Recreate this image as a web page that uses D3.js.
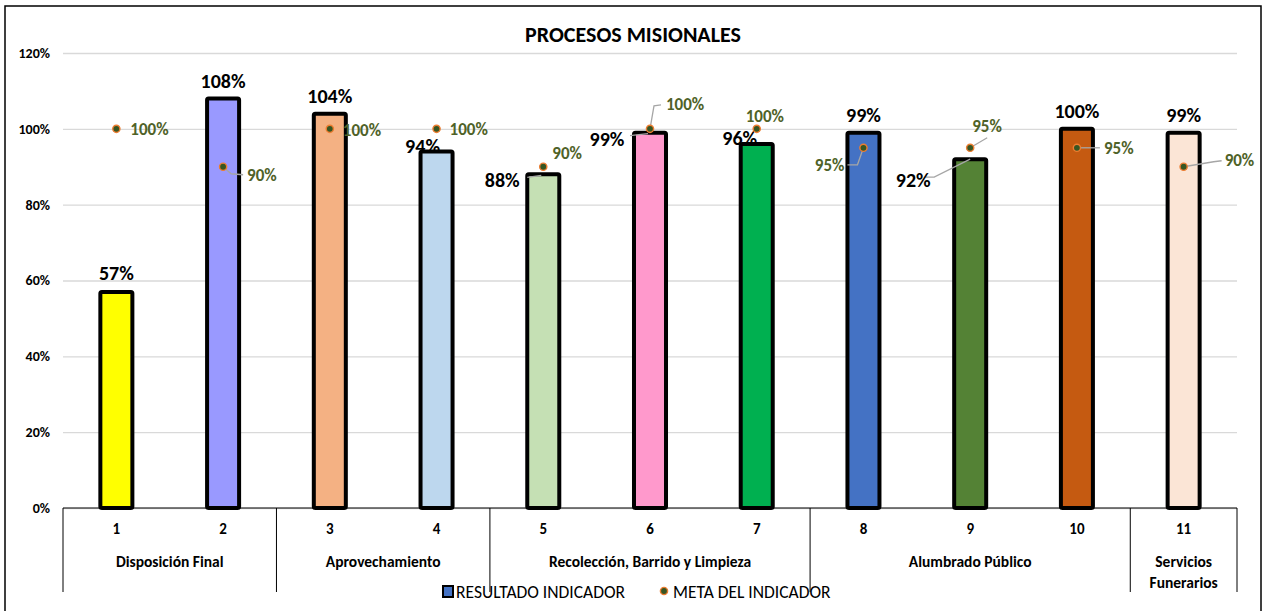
<!DOCTYPE html>
<html>
<head>
<meta charset="utf-8">
<script src="https://cdn.jsdelivr.net/npm/d3@7"></script>
<style>
  html, body { margin: 0; padding: 0; background: #fff; }
  svg { display: block; font-family: Carlito, Calibri, Lato, sans-serif; }
</style>
</head>
<body>
<svg id="chart" width="1264" height="611"></svg>
<script>
// data
const ids = ['1', '2', '3', '4', '5', '6', '7', '8', '9', '10', '11'];
const resultado = [0.57, 1.08, 1.04, 0.94, 0.88, 0.99, 0.96, 0.99, 0.92, 1.00, 0.99];
const meta = [1.00, 0.90, 1.00, 1.00, 0.90, 1.00, 1.00, 0.95, 0.95, 0.95, 0.90];
const groups = [
  { name: ['Disposición Final'], from: '1', to: '2' },
  { name: ['Aprovechamiento'], from: '3', to: '4' },
  { name: ['Recolección, Barrido y Limpieza'], from: '5', to: '7' },
  { name: ['Alumbrado Público'], from: '8', to: '10' },
  { name: ['Servicios', 'Funerarios'], from: '11', to: '11' },
];
const yTicks = [0, 0.2, 0.4, 0.6, 0.8, 1.0, 1.2];

const barColors = ['#FFFF00', '#9999FF', '#F4B183', '#BDD7EE', '#C5E0B4', '#FF99CC',
  '#00B050', '#4472C4', '#548235', '#C55A11', '#FBE5D6'];

// label placement (as dragged around in the original sheet)
const barLabelOff = [[0, -12], [0, -11], [0, -11], [-14, 1], [-41, 13], [-43, 13],
  [-17, 1], [0, -11], [-57, 28], [0, -11], [0, -11]];
const barLeaders = { 4: [[-2, 1], [-16, 3]], 5: [[-2, 1], [-20, 3]], 8: [[0, 0], [-36, 18], [-45, 18]] };
const metaLabelOff = [[14, 6, 'start'], [24, 14, 'start'], [13, 7, 'start'], [13, 6, 'start'],
  [9, -8, 'start'], [16, -19, 'start'], [-11, -7, 'start'], [-19, 23, 'end'],
  [2, -16, 'start'], [27, 6, 'start'], [41, -1, 'start']];
const metaLeaders = {
  1: [[0, 0], [8, 7], [20, 8]],
  5: [[0, 0], [4, -23], [11, -24]],
  7: [[0, 0], [-6, 17], [-16, 17]],
  8: [[0, 0], [17, -10]],
  9: [[0, 0], [23, 0]],
  10: [[0, 0], [30, -5], [38, -6]],
};

const svg = d3.select('#chart');

svg.append('rect')
  .attr('x', 5).attr('y', 6).attr('width', 1256).attr('height', 620)
  .attr('fill', '#fff').attr('stroke', '#000').attr('stroke-width', 1.5);

const x = d3.scaleBand().domain(ids).range([63, 1237]);
const y = d3.scaleLinear().domain([0, 1.2]).range([508, 53]);
const barW = x.bandwidth() * 0.3;
const cx = (id) => x(id) + x.bandwidth() / 2;

// title
svg.append('text')
  .attr('x', 633).attr('y', 42)
  .attr('text-anchor', 'middle')
  .attr('font-size', 22).attr('font-weight', 'bold')
  .text('PROCESOS MISIONALES');

// grid + y axis
const yAxis = svg.append('g')
  .attr('transform', 'translate(63,0)')
  .call(d3.axisLeft(y).tickValues(yTicks).tickFormat(d3.format('.0%')).tickSize(-1174).tickPadding(13));
yAxis.select('.domain').remove();
yAxis.selectAll('.tick line').attr('stroke', '#d9d9d9').attr('stroke-width', 1.3);
yAxis.selectAll('.tick text')
  .attr('font-size', 14).attr('font-weight', 'bold').attr('fill', '#000')
  .attr('font-family', 'Carlito, Calibri, Lato, sans-serif');

// baseline
svg.append('line')
  .attr('x1', 63).attr('x2', 1237).attr('y1', y(0)).attr('y2', y(0))
  .attr('stroke', '#000').attr('stroke-width', 1);

// category axis: numbers, group names and separators
svg.append('g').selectAll('text')
  .data(ids)
  .join('text')
  .attr('x', cx).attr('y', 534)
  .attr('text-anchor', 'middle')
  .attr('font-size', 15).attr('font-weight', 'bold')
  .text((d) => d);

const seps = [x(groups[0].from)].concat(groups.map((g) => x(g.to) + x.bandwidth()));
svg.append('g').selectAll('line')
  .data(seps)
  .join('line')
  .attr('x1', (d) => d).attr('x2', (d) => d)
  .attr('y1', y(0)).attr('y2', 592)
  .attr('stroke', '#000').attr('stroke-width', 1);

const gl = svg.append('g').selectAll('text')
  .data(groups)
  .join('text')
  .attr('x', (g) => (x(g.from) + x(g.to) + x.bandwidth()) / 2)
  .attr('y', 567)
  .attr('text-anchor', 'middle')
  .attr('font-size', 15.5).attr('font-weight', 'bold');
gl.selectAll('tspan')
  .data((g) => g.name)
  .join('tspan')
  .attr('x', function () { return d3.select(this.parentNode).attr('x'); })
  .attr('dy', (d, i) => (i === 0 ? 0 : 21))
  .text((d) => d);

// bars
const barData = ids.map((id, i) => ({ id, i, v: resultado[i], m: meta[i] }));
svg.append('g').selectAll('rect')
  .data(barData)
  .join('rect')
  .attr('x', (d) => cx(d.id) - barW / 2)
  .attr('y', (d) => y(d.v))
  .attr('width', barW)
  .attr('height', (d) => y(0) - y(d.v))
  .attr('rx', 1.5)
  .attr('fill', (d) => barColors[d.i])
  .attr('stroke', '#000')
  .attr('stroke-width', 4);

const line = d3.line();

// leader lines
const leadG = svg.append('g').attr('fill', 'none').attr('stroke', '#a6a6a6').attr('stroke-width', 1.3);
Object.entries(barLeaders).forEach(([i, pts]) => {
  const d = barData[i];
  leadG.append('path').attr('d', line(pts.map((p) => [cx(d.id) + p[0], y(d.v) + p[1]])));
});
Object.entries(metaLeaders).forEach(([i, pts]) => {
  const d = barData[i];
  leadG.append('path').attr('d', line(pts.map((p) => [cx(d.id) + p[0], y(d.m) + p[1]])));
});

// bar labels
svg.append('g').selectAll('text')
  .data(barData)
  .join('text')
  .attr('x', (d) => cx(d.id) + barLabelOff[d.i][0])
  .attr('y', (d) => y(d.v) + barLabelOff[d.i][1])
  .attr('text-anchor', 'middle')
  .attr('font-size', 20).attr('font-weight', 'bold')
  .text((d) => d3.format('.0%')(d.v));

// meta points
svg.append('g').selectAll('circle')
  .data(barData)
  .join('circle')
  .attr('cx', (d) => cx(d.id))
  .attr('cy', (d) => y(d.m))
  .attr('r', 3.6)
  .attr('fill', '#375623')
  .attr('stroke', '#ED7D31')
  .attr('stroke-width', 1.4);

svg.append('g').selectAll('text')
  .data(barData)
  .join('text')
  .attr('x', (d) => cx(d.id) + metaLabelOff[d.i][0])
  .attr('y', (d) => y(d.m) + metaLabelOff[d.i][1])
  .attr('text-anchor', (d) => metaLabelOff[d.i][2])
  .attr('font-size', 17).attr('font-weight', 'bold')
  .attr('fill', '#4F6228')
  .text((d) => d3.format('.0%')(d.m));

// legend
const leg = svg.append('g').attr('font-size', 17.5);
leg.append('rect')
  .attr('x', 443).attr('y', 586).attr('width', 10).attr('height', 11)
  .attr('fill', '#4472C4').attr('stroke', '#000').attr('stroke-width', 2);
leg.append('text').attr('x', 456).attr('y', 598).text('RESULTADO INDICADOR');
leg.append('circle')
  .attr('cx', 664).attr('cy', 591).attr('r', 3.6)
  .attr('fill', '#375623').attr('stroke', '#ED7D31').attr('stroke-width', 1.4);
leg.append('text').attr('x', 673).attr('y', 598).text('META DEL INDICADOR');
</script>
</body>
</html>
